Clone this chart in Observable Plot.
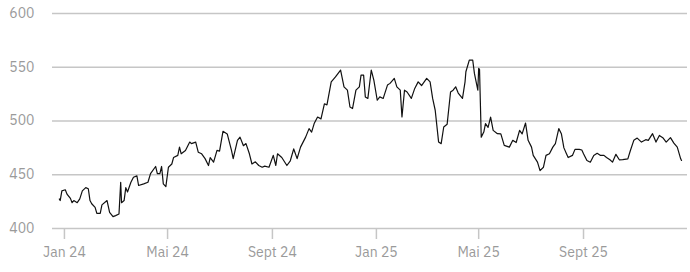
<!DOCTYPE html>
<html><head><meta charset="utf-8">
<script src="https://cdn.jsdelivr.net/npm/d3@7"></script>
<script src="https://cdn.jsdelivr.net/npm/@observablehq/plot@0.6"></script>
<style>body{margin:0;background:#fff}</style>
</head><body><div id="chart"></div>
<script>
const dates = [
"2023-12-26","2023-12-27","2023-12-29","2024-01-02","2024-01-04","2024-01-08","2024-01-10","2024-01-12","2024-01-16","2024-01-19",
"2024-01-22","2024-01-26","2024-01-29","2024-01-31","2024-02-02","2024-02-06","2024-02-08","2024-02-12","2024-02-14","2024-02-20",
"2024-02-23","2024-02-27","2024-03-01","2024-03-05","2024-03-07","2024-03-08","2024-03-11","2024-03-13","2024-03-15","2024-03-19",
"2024-03-22","2024-03-26","2024-03-28","2024-04-03","2024-04-08","2024-04-11","2024-04-17","2024-04-19","2024-04-22","2024-04-24",
"2024-04-26","2024-04-29","2024-05-02","2024-05-06","2024-05-08","2024-05-13","2024-05-15","2024-05-17","2024-05-22","2024-05-27",
"2024-05-29","2024-06-03","2024-06-06","2024-06-10","2024-06-14","2024-06-18","2024-06-20","2024-06-24","2024-06-28","2024-07-01",
"2024-07-05","2024-07-10","2024-07-15","2024-07-17","2024-07-22","2024-07-25","2024-07-29","2024-08-01","2024-08-05","2024-08-08",
"2024-08-12","2024-08-16","2024-08-20","2024-08-23","2024-08-28","2024-09-02","2024-09-05","2024-09-07","2024-09-12","2024-09-18",
"2024-09-22","2024-09-26","2024-09-30","2024-10-04","2024-10-10","2024-10-14","2024-10-17","2024-10-20","2024-10-24","2024-10-28",
"2024-11-01","2024-11-04","2024-11-09","2024-11-14","2024-11-20","2024-11-24","2024-11-28","2024-12-01","2024-12-04","2024-12-08",
"2024-12-12","2024-12-14","2024-12-17","2024-12-19","2024-12-22","2024-12-26","2024-12-29","2025-01-02","2025-01-05","2025-01-09",
"2025-01-14","2025-01-17","2025-01-22","2025-01-25","2025-01-29","2025-01-31","2025-02-03","2025-02-06","2025-02-11","2025-02-15",
"2025-02-19","2025-02-23","2025-03-01","2025-03-05","2025-03-08","2025-03-11","2025-03-15","2025-03-18","2025-03-21","2025-03-25",
"2025-03-29","2025-04-01","2025-04-04","2025-04-07","2025-04-12","2025-04-15","2025-04-16","2025-04-20","2025-04-24","2025-04-26",
"2025-04-30","2025-05-01","2025-05-02","2025-05-04","2025-05-07","2025-05-09","2025-05-12","2025-05-15","2025-05-18","2025-05-23",
"2025-05-27","2025-05-31","2025-06-06","2025-06-10","2025-06-14","2025-06-18","2025-06-21","2025-06-25","2025-06-28","2025-07-02",
"2025-07-04","2025-07-09","2025-07-12","2025-07-16","2025-07-19","2025-07-23","2025-07-27","2025-07-30","2025-08-03","2025-08-06",
"2025-08-09","2025-08-12","2025-08-14","2025-08-19","2025-08-22","2025-08-27","2025-08-30","2025-09-01","2025-09-05","2025-09-09",
"2025-09-13","2025-09-17","2025-09-21","2025-09-25","2025-09-28","2025-10-02","2025-10-05","2025-10-09","2025-10-13","2025-10-17",
"2025-10-23","2025-10-26","2025-10-30","2025-11-03","2025-11-08","2025-11-13","2025-11-16","2025-11-21","2025-11-25","2025-11-29",
"2025-12-03","2025-12-07","2025-12-12","2025-12-16","2025-12-20","2025-12-24","2025-12-25"
];
const values = [
427.5,426,435,436,432,428,424,426,424,427.5,
435,438,437,426,423,419.6,414,414,422,426,
415,411,412,413.5,443,424,426,438,434,443,
447.7,449,440,441.5,443,451,457.7,451,451,457.7,
441.5,439,457,460,466,468,475.7,469.5,472.6,480.4,
479,480.4,471,469.5,465,458.6,466,461.7,472.6,472,
490.4,488,472.6,465,482,485,477,479,469.5,460,
462,458.6,457,458,457,468,458.6,469.5,466,458.6,
463,474,465,475.7,485,492.9,489.7,497.6,503.7,502,
516,515,536.4,541,547.4,531.8,528.7,513,511.6,528.7,
531.8,542.7,542.7,522.4,521,547.4,538,519.3,522.4,521,
533.4,535,539.6,531.8,528.7,503.7,528.7,527,521,530.3,
536.4,533,539.6,536.4,521,510,480.4,478.9,494.4,497,
527,528.7,531.8,526,521,536.4,545.8,556.7,556.7,544.3,
528.7,549,548,485,489.7,497.6,494,503.7,491.3,488.2,
488,477.3,475.7,482,480,491.3,488,498.1,482,475.7,
468,461.7,453.9,457,468,469.5,475.7,478.9,492.9,488.2,
475,469.5,466,468,473.6,473.6,473,469.5,463.3,461.7,
468,470,468,468,466,463.9,461.7,469,463.9,464,
464.8,472.6,482,484.1,480.4,482.6,482,488.2,480.4,486.6,
484.5,480.4,484.5,479.4,475.7,464.8,463.3
];
const tickDates = ["2024-01-01","2024-05-01","2024-09-01","2025-01-01","2025-05-01","2025-09-01"];
const tickLabels = ["Jan 24","Mai 24","Sept 24","Jan 25","Mai 25","Sept 25"];
const yTicks = [400,450,500,550,600];

const data = dates.map((d, i) => ({date: new Date(d), value: values[i]}));
const labelMap = new Map(tickDates.map((d, i) => [+new Date(d), tickLabels[i]]));

const chart = Plot.plot({
  width: 690, height: 272,
  marginLeft: 52, marginRight: 3, marginTop: 13, marginBottom: 44,
  style: {fontFamily: "'IBM Plex Sans', 'Noto Sans', sans-serif", fontSize: "14px", background: "#fff", overflow: "visible"},
  x: {type: "utc", domain: [new Date("2023-12-18"), new Date("2026-01-01")]},
  y: {domain: [400, 600]},
  marks: [
    Plot.ruleY(yTicks, {stroke: "#c6c6c6", strokeWidth: 1.5}),
    Plot.axisY({ticks: yTicks, tickSize: 0, tickPadding: 18, label: null, fill: "#9a9a9a", fontSize: 14}),
    Plot.axisX({ticks: tickDates.map(d => new Date(d)), tickFormat: d => labelMap.get(+d), tickSize: 11, tickPadding: 8, label: null, stroke: "#c6c6c6", strokeWidth: 1.5, fill: "#9a9a9a", fontSize: 14}),
    Plot.lineY(data, {x: "date", y: "value", stroke: "#111", strokeWidth: 1.2})
  ]
});
document.getElementById("chart").appendChild(chart);
</script>
</body></html>
